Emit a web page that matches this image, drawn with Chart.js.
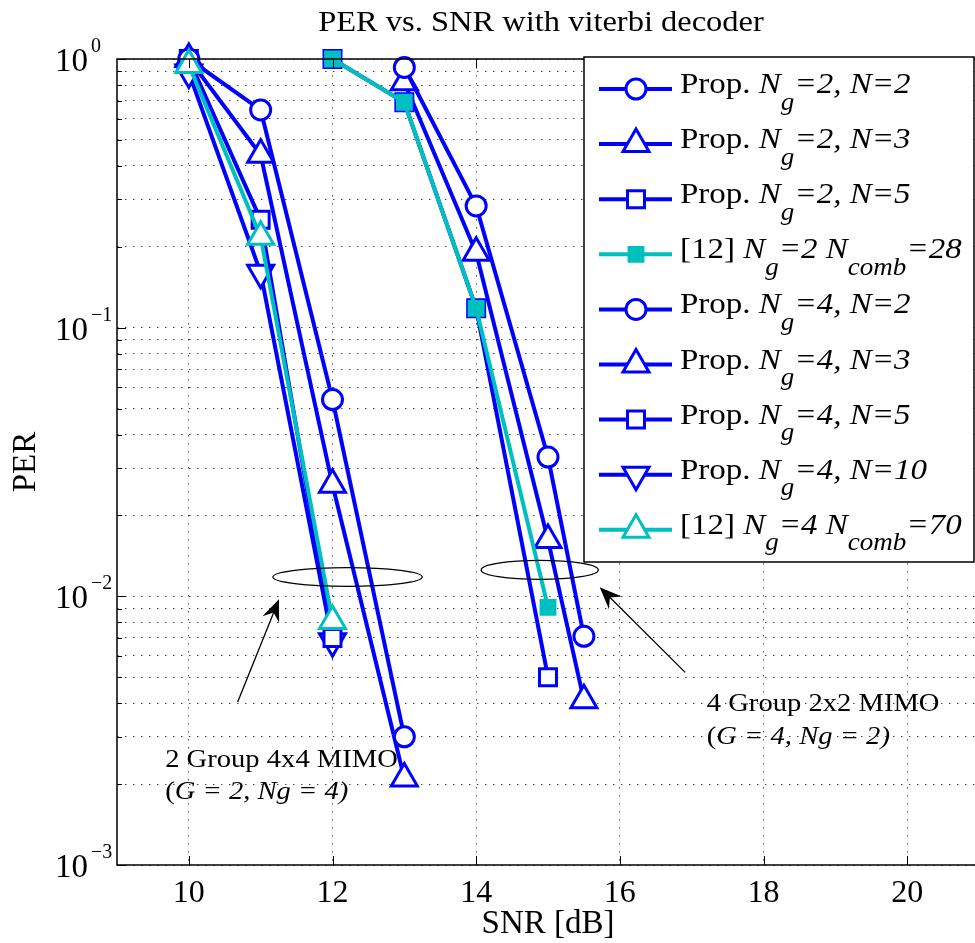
<!DOCTYPE html>
<html>
<head>
<meta charset="utf-8">
<script src="https://cdn.jsdelivr.net/npm/chart.js@4.4.1/dist/chart.umd.min.js"></script>
<style>
    html, body { margin: 0; padding: 0; background: #fff; overflow: hidden; }
    #wrap { width: 985px; height: 943px; }
</style>
</head>
<body>
<div id="wrap"><canvas id="perChart" width="985" height="943"></canvas></div>
<script>
// SNR points [dB]
const snrNg2 = [13, 14, 15, 15.5];
const snrNg2Ref = [12, 13, 14, 15];
const snrNg4 = [10, 11, 12, 13];
const snrNg4Short = [10, 11, 12];

// PER
const perNg2N2 = [0.93, 0.284, 0.033, 0.0071];
const perNg2N3 = [0.82, 0.19, 0.0162, 0.0041];
const perNg2N5 = [1.0, 0.69, 0.118, 0.0050];
const perRef28 = [1.0, 0.69, 0.118, 0.0091];
const perNg4N2 = [1.0, 0.646, 0.054, 0.0030];
const perNg4N3 = [1.0, 0.44, 0.026, 0.0021];
const perNg4N5 = [1.0, 0.252, 0.0070];
const perNg4N10 = [0.89, 0.16, 0.0068];
const perRef70 = [0.95, 0.218, 0.0081];

// axes
const xTicks = [10, 12, 14, 16, 18, 20];
const yDecades = [1e-3, 1e-2, 1e-1, 1];
const yExponents = ['\u22123', '\u22122', '\u22121', '0'];
const yMinorSteps = [2, 3, 4, 5, 6, 7, 8, 9];

// legend text: '*' italic, '_' italic subscript
const legendLabels = [
    ['Prop. ', '*N', '_g', '*=2, N=2'],
    ['Prop. ', '*N', '_g', '*=2, N=3'],
    ['Prop. ', '*N', '_g', '*=2, N=5'],
    ['[12] ', '*N', '_g', '*=2 N', '_comb', '*=28'],
    ['Prop. ', '*N', '_g', '*=4, N=2'],
    ['Prop. ', '*N', '_g', '*=4, N=3'],
    ['Prop. ', '*N', '_g', '*=4, N=5'],
    ['Prop. ', '*N', '_g', '*=4, N=10'],
    ['[12] ', '*N', '_g', '*=4 N', '_comb', '*=70']
];

const BLUE = '#0000ff';
const CYAN = '#00bfbf';
const SERIF = '"Liberation Serif", "Times New Roman", serif';

const markers = {
    circle: { pointStyle: 'circle', radius: 10, rotation: 0 },
    up: { pointStyle: 'triangle', radius: 15, rotation: 0 },
    down: { pointStyle: 'triangle', radius: 15, rotation: 180 },
    square: { pointStyle: 'rect', radius: 12, rotation: 0 },
    filledSquare: { pointStyle: 'rect', radius: 10.5, rotation: 0 }
};

function series(xs, ys, marker, color, filled) {
    const m = markers[marker];
    return {
        data: xs.map((x, i) => ({ x, y: ys[i] })),
        borderColor: color,
        borderWidth: 4,
        pointStyle: m.pointStyle,
        pointRadius: m.radius,
        pointRotation: m.rotation,
        pointBorderWidth: filled ? 2 : 3,
        pointBorderColor: color,
        pointBackgroundColor: filled ? color : '#fff',
        tension: 0,
        clip: false,
        order: color === CYAN ? 0 : 1
    };
}

const datasets = [
    series(snrNg2, perNg2N2, 'circle', BLUE, false),
    series(snrNg2, perNg2N3, 'up', BLUE, false),
    series(snrNg2Ref, perNg2N5, 'square', BLUE, false),
    series(snrNg2Ref, perRef28, 'filledSquare', CYAN, true),
    series(snrNg4, perNg4N2, 'circle', BLUE, false),
    series(snrNg4, perNg4N3, 'up', BLUE, false),
    series(snrNg4Short, perNg4N5, 'square', BLUE, false),
    series(snrNg4Short, perNg4N10, 'down', BLUE, false),
    series(snrNg4Short, perRef70, 'up', CYAN, false)
];

// annotations in data coordinates
const ellipses = [
    { x1: 11.17, x2: 13.25, yTop: 0.0128, yBot: 0.0109 },
    { x1: 14.07, x2: 15.70, yTop: 0.0136, yBot: 0.01156 }
];
const arrows = [
    { from: [10.68, 0.00404], to: [11.255, 0.00975] },
    { from: [16.91, 0.00521], to: [15.72, 0.0108] }
];
const notes = [
    { x: 9.67, y: [0.00231, 0.00176], lines: [['2 Group 4x4 MIMO'], ['(', '*G = 2, Ng = 4)']] },
    { x: 17.21, y: [0.00374, 0.00282], lines: [['4 Group 2x2 MIMO'], ['(', '*G = 4, Ng = 2)']] }
];

function richText(ctx, x, y, parts, size, sx) {
    ctx.save();
    ctx.translate(x, y);
    ctx.scale(sx, 1);
    ctx.textAlign = 'left';
    ctx.textBaseline = 'alphabetic';
    let cx = 0;
    for (const p of parts) {
        let t = p, italic = false, sub = false;
        if (t[0] === '_') { sub = true; italic = true; t = t.slice(1); }
        else if (t[0] === '*') { italic = true; t = t.slice(1); }
        const fs = sub ? size * 0.82 : size;
        ctx.font = (italic ? 'italic ' : '') + fs + 'px ' + SERIF;
        ctx.fillText(t, cx, sub ? size * 0.55 : 0);
        cx += ctx.measureText(t).width;
    }
    ctx.restore();
}

function drawMarker(ctx, ds, x, y) {
    ctx.save();
    ctx.fillStyle = ds.pointBackgroundColor;
    ctx.strokeStyle = ds.pointBorderColor;
    ctx.lineWidth = ds.pointBorderWidth;
    Chart.helpers.drawPoint(ctx, {
        pointStyle: ds.pointStyle, radius: ds.pointRadius,
        rotation: ds.pointRotation, borderWidth: ds.pointBorderWidth
    }, x, y);
    ctx.restore();
}

const decorations = {
    id: 'decorations',
    afterDraw(chart) {
        const { ctx, chartArea: a, scales: { x, y } } = chart;
        ctx.save();

        // axes box + inward ticks
        ctx.strokeStyle = '#000';
        ctx.lineWidth = 1.5;
        ctx.strokeRect(a.left, a.top, a.right - a.left, a.bottom - a.top);
        ctx.lineWidth = 1;
        ctx.beginPath();
        xTicks.forEach(v => {
            const px = Math.round(x.getPixelForValue(v)) + 0.5;
            ctx.moveTo(px, a.bottom); ctx.lineTo(px, a.bottom - 9);
            ctx.moveTo(px, a.top); ctx.lineTo(px, a.top + 9);
        });
        yDecades.forEach((d, i) => {
            const py = Math.round(y.getPixelForValue(d)) + 0.5;
            ctx.moveTo(a.left, py); ctx.lineTo(a.left + 9, py);
            if (i < yDecades.length - 1) {
                yMinorSteps.forEach(k => {
                    const pm = Math.round(y.getPixelForValue(d * k)) + 0.5;
                    ctx.moveTo(a.left, pm); ctx.lineTo(a.left + 5, pm);
                });
            }
        });
        ctx.stroke();

        // ellipses and arrows
        ctx.lineWidth = 1.3;
        ellipses.forEach(e => {
            const x1 = x.getPixelForValue(e.x1), x2 = x.getPixelForValue(e.x2);
            const y1 = y.getPixelForValue(e.yTop), y2 = y.getPixelForValue(e.yBot);
            ctx.beginPath();
            ctx.ellipse((x1 + x2) / 2, (y1 + y2) / 2, (x2 - x1) / 2, (y2 - y1) / 2, 0, 0, Math.PI * 2);
            ctx.stroke();
        });
        ctx.fillStyle = '#000';
        arrows.forEach(ar => {
            const fx = x.getPixelForValue(ar.from[0]), fy = y.getPixelForValue(ar.from[1]);
            const tx = x.getPixelForValue(ar.to[0]), ty = y.getPixelForValue(ar.to[1]);
            const ang = Math.atan2(ty - fy, tx - fx);
            const len = 22, half = 9;
            ctx.beginPath();
            ctx.moveTo(fx, fy);
            ctx.lineTo(tx - Math.cos(ang) * 12, ty - Math.sin(ang) * 12);
            ctx.stroke();
            const bx = tx - Math.cos(ang) * len, by = ty - Math.sin(ang) * len;
            const nx = tx - Math.cos(ang) * len * 0.65, ny = ty - Math.sin(ang) * len * 0.65;
            ctx.beginPath();
            ctx.moveTo(tx, ty);
            ctx.lineTo(bx - Math.sin(ang) * half, by + Math.cos(ang) * half);
            ctx.lineTo(nx, ny);
            ctx.lineTo(bx + Math.sin(ang) * half, by - Math.cos(ang) * half);
            ctx.closePath();
            ctx.fill();
        });

        // annotation text
        notes.forEach(n => {
            const px = x.getPixelForValue(n.x);
            n.lines.forEach((ln, i) => richText(ctx, px, y.getPixelForValue(n.y[i]), ln, 26, 1.1));
        });

        // tick labels
        ctx.fillStyle = '#000';
        ctx.font = '32px ' + SERIF;
        ctx.textAlign = 'center';
        ctx.textBaseline = 'alphabetic';
        xTicks.forEach(v => ctx.fillText(String(v), x.getPixelForValue(v), a.bottom + 37));
        yDecades.forEach((d, i) => {
            const py = y.getPixelForValue(d);
            ctx.font = '33px ' + SERIF;
            ctx.textAlign = 'left';
            ctx.fillText('10', 55, py + 12);
            const w = ctx.measureText('10').width;
            ctx.font = '20px ' + SERIF;
            ctx.fillText(yExponents[i], 55 + w + 3, py - 7);
        });

        // titles
        ctx.save();
        ctx.translate(541, 31);
        ctx.scale(1.12, 1);
        ctx.textAlign = 'center';
        ctx.font = '29px ' + SERIF;
        ctx.fillText('PER vs. SNR with viterbi decoder', 0, 0);
        ctx.restore();
        ctx.textAlign = 'center';
        ctx.font = '33px ' + SERIF;
        ctx.fillText('SNR [dB]', (a.left + a.right) / 2, 933);
        ctx.save();
        ctx.translate(35, (a.top + a.bottom) / 2);
        ctx.rotate(-Math.PI / 2);
        ctx.fillText('PER', 0, 0);
        ctx.restore();

        // legend
        const lx = 584, ly = 57, lw = 390, lh = 505;
        ctx.fillStyle = '#fff';
        ctx.fillRect(lx, ly, lw, lh);
        ctx.strokeStyle = '#000';
        ctx.lineWidth = 1.5;
        ctx.strokeRect(lx, ly, lw, lh);
        datasets.forEach((ds, i) => {
            const ry = 89 + i * 55.1;
            ctx.strokeStyle = ds.borderColor;
            ctx.lineWidth = 4;
            ctx.beginPath();
            ctx.moveTo(599, ry); ctx.lineTo(672, ry);
            ctx.stroke();
            drawMarker(ctx, ds, 636, ry);
            ctx.fillStyle = '#000';
            richText(ctx, 680, ry + 4, legendLabels[i], 30, 1.1);
        });

        ctx.restore();
    }
};

new Chart(document.getElementById('perChart'), {
    type: 'line',
    data: { datasets },
    options: {
        responsive: false,
        animation: false,
        layout: { autoPadding: false, padding: { left: 117, right: 6, top: 59, bottom: 78 } },
        plugins: { legend: { display: false }, tooltip: { enabled: false }, title: { display: false } },
        scales: {
            x: {
                type: 'linear', min: 9, max: 21,
                afterBuildTicks: s => { s.ticks = xTicks.map(v => ({ value: v })); },
                afterFit: s => { s.height = 0; },
                ticks: { display: false },
                grid: { color: 'rgba(0,0,0,0.7)', lineWidth: 1, drawTicks: false },
                border: { display: false, dash: [1.5, 6.5] }
            },
            y: {
                type: 'logarithmic', min: 1e-3, max: 1,
                afterBuildTicks: s => {
                    const t = [];
                    yDecades.forEach((d, i) => {
                        t.push({ value: d, major: true });
                        if (i < yDecades.length - 1) yMinorSteps.forEach(k => t.push({ value: d * k }));
                    });
                    s.ticks = t;
                },
                afterFit: s => { s.width = 0; },
                ticks: { display: false },
                grid: { color: 'rgba(0,0,0,0.7)', lineWidth: 1, drawTicks: false },
                border: { display: false, dash: [1.5, 6.5] }
            }
        }
    },
    plugins: [decorations]
});
</script>
</body>
</html>
